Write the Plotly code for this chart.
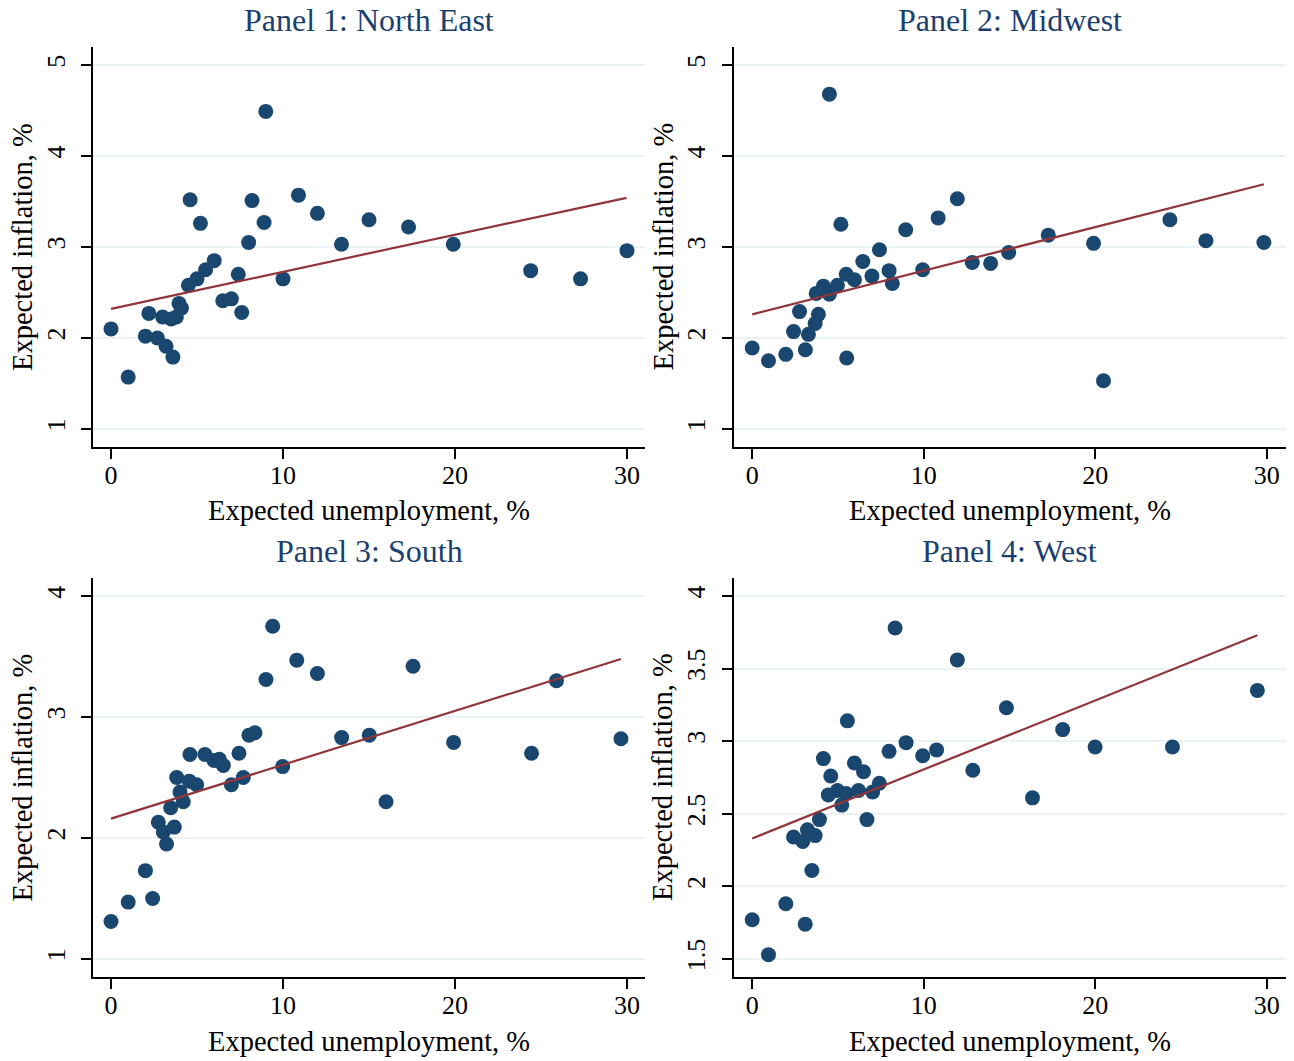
import plotly.graph_objects as go

# ---------------- data ----------------
titles = ["Panel 1: North East", "Panel 2: Midwest", "Panel 3: South", "Panel 4: West"]

ne_x = [0.0, 1.0, 2.2, 2.0, 2.7, 3.0, 3.2, 3.6, 3.5, 3.8, 3.95, 4.1, 4.5, 5.0, 5.5, 6.0,
        4.6, 5.2, 6.5, 7.0, 7.4, 7.6, 8.0, 8.2, 8.9, 9.0, 10.0, 10.9, 12.0, 13.4, 15.0,
        17.3, 19.9, 24.4, 27.3, 30.0]
ne_y = [2.10, 1.57, 2.27, 2.02, 2.00, 2.23, 1.91, 1.79, 2.21, 2.23, 2.38, 2.33, 2.58, 2.65, 2.75, 2.85,
        3.52, 3.26, 2.41, 2.43, 2.70, 2.28, 3.05, 3.51, 3.27, 4.49, 2.65, 3.57, 3.37, 3.03, 3.30,
        3.22, 3.03, 2.74, 2.65, 2.96]

mw_x = [0.0, 0.95, 1.96, 3.1, 2.76, 2.41, 3.28, 3.67, 3.86, 3.73, 4.15, 4.5, 4.97, 5.48, 5.96,
        5.17, 4.5, 5.51, 6.45, 6.98, 7.42, 7.98, 8.17, 8.95, 9.94, 10.84, 11.96, 12.83, 13.9,
        14.95, 17.26, 19.9, 20.48, 24.35, 26.45, 29.83]
mw_y = [1.89, 1.75, 1.82, 1.87, 2.29, 2.07, 2.04, 2.16, 2.26, 2.49, 2.57, 2.48, 2.58, 2.70, 2.64,
        3.25, 4.68, 1.78, 2.84, 2.68, 2.97, 2.74, 2.60, 3.19, 2.75, 3.32, 3.53, 2.83, 2.82,
        2.94, 3.13, 3.04, 1.53, 3.30, 3.07, 3.05]

so_x = [0.0, 1.0, 2.0, 2.42, 2.75, 3.04, 3.23, 3.68, 3.47, 4.2, 4.01, 3.82, 4.55, 4.98, 4.59,
        5.46, 5.99, 6.3, 6.53, 7.44, 7.0, 7.69, 8.02, 8.37, 9.01, 9.4, 9.98, 10.8, 12.0, 13.41,
        15.02, 15.99, 17.56, 19.92, 24.45, 25.9, 29.65]
so_y = [1.31, 1.47, 1.73, 1.50, 2.13, 2.05, 1.95, 2.09, 2.25, 2.30, 2.38, 2.50, 2.47, 2.44, 2.69,
        2.69, 2.64, 2.65, 2.60, 2.70, 2.44, 2.50, 2.85, 2.87, 3.31, 3.75, 2.59, 3.47, 3.36, 2.83,
        2.85, 2.30, 3.42, 2.79, 2.70, 3.30, 2.82]

we_x = [0.0, 0.95, 1.96, 3.09, 3.48, 2.41, 2.95, 3.22, 3.67, 3.92, 4.15, 4.58, 4.44, 4.97, 5.22,
        5.48, 5.55, 5.96, 6.2, 6.49, 6.69, 7.02, 7.41, 7.98, 8.33, 8.97, 9.94, 10.75, 11.96,
        12.86, 14.82, 16.34, 18.1, 19.99, 24.5, 29.45]
we_y = [1.77, 1.53, 1.88, 1.74, 2.11, 2.34, 2.31, 2.39, 2.35, 2.46, 2.88, 2.76, 2.63, 2.66, 2.56,
        2.64, 3.14, 2.85, 2.66, 2.79, 2.46, 2.65, 2.71, 2.93, 3.78, 2.99, 2.90, 2.94, 3.56,
        2.80, 3.23, 2.61, 3.08, 2.96, 2.96, 3.35]

# fitted-line endpoints
fit_x = [[0.0, 29.97], [0.0, 29.83], [0.0, 29.65], [0.0, 29.45]]
fit_y = [[2.32, 3.54], [2.26, 3.69], [2.16, 3.48], [2.33, 3.73]]

x_ticks = [0, 10, 20, 30]
y_ticks = [[1, 2, 3, 4, 5], [1, 2, 3, 4, 5], [1, 2, 3, 4], [1.5, 2, 2.5, 3, 3.5, 4]]
y_tick_text = [["1", "2", "3", "4", "5"], ["1", "2", "3", "4", "5"],
               ["1", "2", "3", "4"], ["1.5", "2", "2.5", "3", "3.5", "4"]]

xs = [ne_x, mw_x, so_x, we_x]
ys = [ne_y, mw_y, so_y, we_y]

# ---------------- styling / layout ----------------
W, H = 1294, 1061
FONT = "Liberation Serif, Times New Roman, serif"
NAVY = "#1a476f"
TITLE_NAVY = "#1c3f6e"
MAROON = "#90353b"
GRID = "#eaf2f3"

x_dom_px = [(93, 645), (733.5, 1285.5), (93, 645), (733.5, 1285.5)]
y_dom_px = [(47, 447), (47, 447), (578, 977), (578, 977)]
x_ranges = [[-1.047, 31.047], [-1.09, 31.09], [-1.047, 31.047], [-1.09, 31.09]]
y_ranges = [[0.802, 5.198], [0.802, 5.198], [0.851, 4.149], [1.376, 4.124]]

fig = go.Figure()
annotations = []
layout = {}
for i in range(4):
    sfx = "" if i == 0 else str(i + 1)
    xa, ya = "x" + sfx, "y" + sfx
    fig.add_trace(go.Scatter(x=xs[i], y=ys[i], mode="markers", xaxis=xa, yaxis=ya,
                             marker=dict(color=NAVY, size=15, line=dict(width=0)),
                             showlegend=False, cliponaxis=False))
    fig.add_trace(go.Scatter(x=fit_x[i], y=fit_y[i], mode="lines", xaxis=xa, yaxis=ya,
                             line=dict(color=MAROON, width=2.2), showlegend=False))
    x0, x1 = x_dom_px[i]
    y0, y1 = y_dom_px[i]
    xd = [x0 / W, x1 / W]
    yd = [1 - y1 / H, 1 - y0 / H]
    layout["xaxis" + sfx] = dict(
        domain=xd, anchor=ya, range=x_ranges[i], tickmode="array", tickvals=x_ticks,
        ticks="outside", ticklen=10, tickwidth=1.5, tickcolor="black",
        showline=True, linecolor="black", linewidth=1.5, showgrid=False, zeroline=False,
        tickfont=dict(family=FONT, size=26, color="black"), ticklabelstandoff=-6)
    layout["yaxis" + sfx] = dict(
        domain=yd, anchor=xa, range=y_ranges[i], tickmode="array", tickvals=y_ticks[i],
        ticktext=y_tick_text[i], tickangle=-90,
        ticks="outside", ticklen=10, tickwidth=1.5, tickcolor="black",
        showline=True, linecolor="black", linewidth=1.5, showgrid=True, gridcolor=GRID,
        gridwidth=2, zeroline=False,
        tickfont=dict(family=FONT, size=26, color="black"), ticklabelstandoff=6)
    cx = (x0 + x1) / 2 / W
    annotations.append(dict(text=titles[i], x=cx, y=1 - (y0 - 27) / H, xref="paper", yref="paper",
                            xanchor="center", yanchor="middle", showarrow=False,
                            font=dict(family=FONT, size=32, color=TITLE_NAVY)))
    annotations.append(dict(text="Expected unemployment, %", x=cx, y=1 - (y1 + 64) / H,
                            xref="paper", yref="paper", xanchor="center", yanchor="middle",
                            showarrow=False, font=dict(family=FONT, size=28.5, color="black")))
    annotations.append(dict(text="Expected inflation, %", x=(x0 - 71) / W, y=1 - (y0 + y1) / 2 / H,
                            xref="paper", yref="paper", xanchor="center", yanchor="middle",
                            textangle=-90, showarrow=False,
                            font=dict(family=FONT, size=28.5, color="black")))

fig.update_layout(width=W, height=H, margin=dict(l=0, r=0, t=0, b=0),
                  paper_bgcolor="white", plot_bgcolor="white",
                  annotations=annotations, **layout)
fig.write_html("out.html", config={"displayModeBar": False},
               post_script="document.body.style.margin='0px';")
